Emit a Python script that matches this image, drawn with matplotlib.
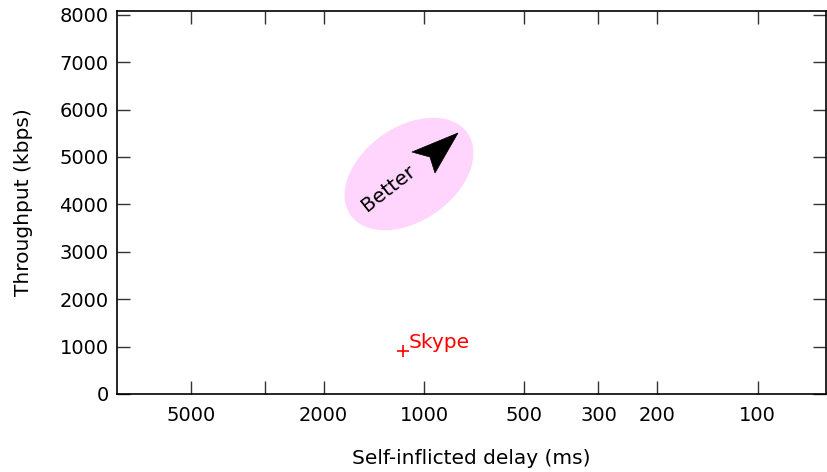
import numpy as np
import matplotlib
matplotlib.use("Agg")
import matplotlib.pyplot as plt
from matplotlib.patches import Ellipse, Polygon
from matplotlib.transforms import ScaledTranslation

# Data
schemes = ["Skype"]
delay_ms = [1156]
throughput_kbps = [910]

xticks = [5000, 3000, 2000, 1000, 500, 300, 200, 100]
xticklabels = ["5000", "", "2000", "1000", "500", "300", "200", "100"]
yticks = [0, 1000, 2000, 3000, 4000, 5000, 6000, 7000, 8000]

plt.rcParams['font.family'] = ['DejaVu Sans']
plt.rcParams['font.size'] = 14

fig = plt.figure(figsize=(8.27, 4.72), dpi=100)
ax = fig.add_axes([0.1415, 0.1653, 0.8573, 0.8114])

ax.set_xscale('log')

# "Better" hint: pink ellipse, arrowhead and label
ell_tr = fig.dpi_scale_trans + ScaledTranslation(1109, 4641, ax.transData)
ax.add_patch(Ellipse((0, 0), 1.43, 0.94, angle=35, transform=ell_tr,
                     facecolor='#ffd4fd', edgecolor='none', zorder=1))
tip_tr = fig.dpi_scale_trans + ScaledTranslation(791, 5506, ax.transData)
head = np.array([[0, 0], [-0.46, -0.19], [-0.28, -0.24], [-0.23, -0.40]])
ax.add_patch(Polygon(head, closed=True, transform=tip_tr,
                     facecolor='black', edgecolor='black', lw=0.5, zorder=2))
ax.text(1275, 4330, "Better", rotation=38, ha='center', va='center',
        fontsize=14.5, zorder=3)

for name, d, t in zip(schemes, delay_ms, throughput_kbps):
    ax.plot(d, t, marker='+', color='red', markersize=9, mew=1.2,
            linestyle='none', zorder=4)
    ax.annotate(name, (d, t), xytext=(4, 2), textcoords='offset points',
                color='red', fontsize=14.5, ha='left', va='baseline')

ax.set_xlim(8318, 62.4)
ax.set_ylim(0, 8080)
ax.set_xticks(xticks)
ax.set_xticklabels(xticklabels)
ax.xaxis.set_minor_locator(matplotlib.ticker.NullLocator())
ax.set_yticks(yticks)

ax.tick_params(direction='in', top=True, right=True, length=9.5, width=1,
               color='#333333', labelsize=14)
ax.tick_params(axis='x', pad=9)
ax.tick_params(axis='y', pad=6)
for s in ax.spines.values():
    s.set_linewidth(1.2)

ax.set_xlabel("Self-inflicted delay (ms)", fontsize=14.5, labelpad=17)
ax.set_ylabel("Throughput (kbps)", fontsize=14.5, labelpad=19)

fig.savefig("out.png", dpi=100)
